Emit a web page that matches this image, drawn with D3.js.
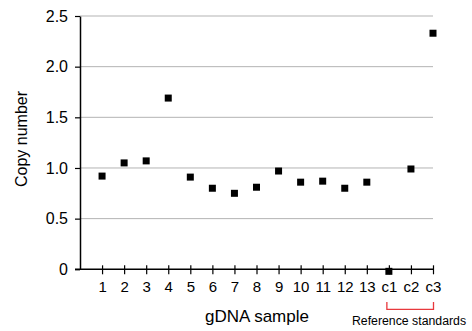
<!DOCTYPE html>
<html lang="en">
<head>
  <meta charset="UTF-8">
  <title>Copy number by gDNA sample</title>
  <script src="https://d3js.org/d3.v7.min.js"></script>
  <style>
    body { margin: 0; background: #fff; }
    svg text { font-family: "Liberation Sans", Arial, Helvetica, sans-serif; fill: #000; }
  </style>
</head>
<body>
  <svg id="chart" width="472" height="331"></svg>

<script>
  // Données
  const samples = ["1", "2", "3", "4", "5", "6", "7", "8", "9", "10", "11", "12", "13", "c1", "c2", "c3"];
  const copyNumber = [0.92, 1.05, 1.07, 1.69, 0.91, 0.80, 0.75, 0.81, 0.97, 0.86, 0.87, 0.80, 0.86, -0.02, 0.99, 2.33];
  const yTicks = [0, 0.5, 1.0, 1.5, 2.0, 2.5];
  const yTickLabels = ["0", "0.5", "1.0", "1.5", "2.0", "2.5"];
  const refGroup = ["c1", "c3"]; // bornes de l'accolade "Reference standards"

  const svg = d3.select("#chart");
  const x0 = 80, x1 = 433, y0 = 269.3, y1 = 16;

  // Échelle x : une place vide avant "1", puis les 16 échantillons
  const xScale = d3.scalePoint()
                   .domain([""].concat(samples))
                   .range([x0, x1]);

  const yScale = d3.scaleLinear()
                   .domain([0, 2.5])
                   .range([y0, y1]);

  // Grille horizontale
  svg.append("g")
     .selectAll("line")
     .data(yTicks.filter(d => d > 0))
     .join("line")
       .attr("x1", x0)
       .attr("x2", x1)
       .attr("y1", d => yScale(d))
       .attr("y2", d => yScale(d))
       .attr("stroke", "#b3b3b3")
       .attr("stroke-width", 1);

  // Axe y
  const yAxis = d3.axisLeft(yScale)
                  .tickValues(yTicks)
                  .tickFormat((d, i) => yTickLabels[i])
                  .tickSize(5)
                  .tickPadding(7)
                  .tickSizeOuter(0);
  const yAxisGroup = svg.append("g")
     .attr("transform", `translate(${x0},0)`)
     .call(yAxis);
  yAxisGroup.select(".domain").attr("stroke", "#000").attr("stroke-width", 1.5);
  yAxisGroup.selectAll(".tick line").attr("stroke", "#000").attr("stroke-width", 1.2);
  yAxisGroup.selectAll(".tick text")
            .style("font-size", "16px")
            .attr("font-family", null);

  // Axe x : traits qui traversent l'axe
  const xAxis = d3.axisBottom(xScale)
                  .tickValues(samples)
                  .tickSize(5)
                  .tickPadding(6)
                  .tickSizeOuter(0);
  const xAxisGroup = svg.append("g")
     .attr("transform", `translate(0,${y0})`)
     .call(xAxis);
  xAxisGroup.select(".domain").remove();
  xAxisGroup.append("line")
            .attr("x1", x0 - 5)
            .attr("x2", x1)
            .attr("stroke", "#000")
            .attr("stroke-width", 1.5);
  xAxisGroup.selectAll(".tick line")
            .attr("y1", -4)
            .attr("y2", 5)
            .attr("stroke", "#000")
            .attr("stroke-width", 1.2);
  xAxisGroup.selectAll(".tick text")
            .style("font-size", "15px")
            .attr("font-family", null)
            .attr("y", 12);

  // Points (carrés)
  const size = 7;
  svg.append("g")
     .selectAll("rect")
     .data(samples.map((s, i) => ({ sample: s, value: copyNumber[i] })))
     .join("rect")
       .attr("x", d => xScale(d.sample) - size / 2)
       .attr("y", d => yScale(d.value) - size / 2)
       .attr("width", size)
       .attr("height", size)
       .attr("fill", "#000");

  // Titres des axes
  svg.append("text")
     .attr("transform", `translate(27,139) rotate(-90)`)
     .attr("text-anchor", "middle")
     .style("font-size", "16px")
     .text("Copy number");

  svg.append("text")
     .attr("x", 257)
     .attr("y", 322)
     .attr("text-anchor", "middle")
     .style("font-size", "17px")
     .text("gDNA sample");

  // Accolade des standards de référence
  const bx1 = xScale(refGroup[0]) - 2, bx2 = xScale(refGroup[1]) + 0.5;
  svg.append("path")
     .attr("d", `M${bx1},302 V309.3 H${bx2} V302`)
     .attr("fill", "none")
     .attr("stroke", "#e8383d")
     .attr("stroke-width", 1.3);

  svg.append("text")
     .attr("x", 409)
     .attr("y", 325)
     .attr("text-anchor", "middle")
     .style("font-size", "12.3px")
     .text("Reference standards");
</script>
</body>
</html>
